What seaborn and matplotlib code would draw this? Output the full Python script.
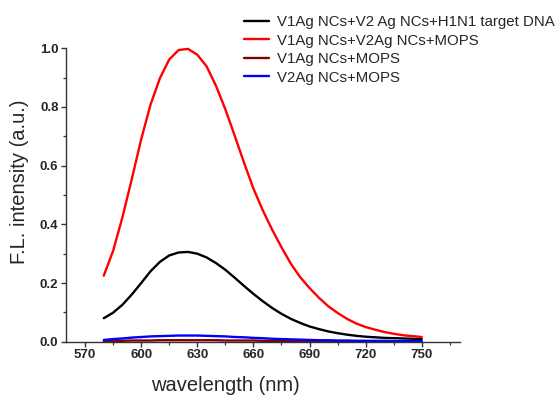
import pandas as pd
import matplotlib
matplotlib.use('Agg')
import matplotlib.pyplot as plt
import seaborn as sns
from matplotlib.ticker import MultipleLocator, FormatStrFormatter

# Emission spectra (5 nm steps)
wavelength = [580, 585, 590, 595, 600, 605, 610, 615, 620, 625,
              630, 635, 640, 645, 650, 655, 660, 665, 670, 675,
              680, 685, 690, 695, 700, 705, 710, 715, 720, 725,
              730, 735, 740, 745, 750]

target_dna = [0.080, 0.099, 0.126, 0.161, 0.200, 0.240, 0.272, 0.294, 0.304, 0.306,
              0.300, 0.287, 0.268, 0.245, 0.218, 0.190, 0.163, 0.138, 0.115, 0.095,
              0.078, 0.064, 0.052, 0.043, 0.035, 0.029, 0.024, 0.020, 0.017, 0.015,
              0.013, 0.012, 0.011, 0.010, 0.009]

v1_v2_mops = [0.225, 0.310, 0.425, 0.555, 0.690, 0.808, 0.898, 0.962, 0.994, 0.998,
              0.978, 0.938, 0.872, 0.792, 0.702, 0.610, 0.522, 0.448, 0.382, 0.322,
              0.266, 0.220, 0.183, 0.150, 0.121, 0.098, 0.078, 0.062, 0.050, 0.041,
              0.033, 0.027, 0.022, 0.019, 0.016]

v1_mops = [0.002, 0.003, 0.003, 0.004, 0.004, 0.004, 0.005, 0.005, 0.005, 0.005,
           0.005, 0.005, 0.005, 0.004, 0.004, 0.004, 0.004, 0.003, 0.003, 0.003,
           0.003, 0.003, 0.002, 0.002, 0.002, 0.002, 0.002, 0.002, 0.002, 0.001,
           0.001, 0.001, 0.001, 0.001, 0.001]

v2_mops = [0.006, 0.009, 0.011, 0.014, 0.016, 0.018, 0.019, 0.020, 0.021, 0.021,
           0.021, 0.020, 0.019, 0.018, 0.016, 0.015, 0.013, 0.012, 0.010, 0.009,
           0.008, 0.007, 0.006, 0.005, 0.005, 0.004, 0.004, 0.003, 0.003, 0.003,
           0.003, 0.002, 0.002, 0.002, 0.002]

labels = ['V1Ag NCs+V2 Ag NCs+H1N1 target DNA',
          'V1Ag NCs+V2Ag NCs+MOPS',
          'V1Ag NCs+MOPS',
          'V2Ag NCs+MOPS']
colors = ['#000000', '#ff0000', '#800000', '#0000ff']

frames = []
for lab, vals in zip(labels, [target_dna, v1_v2_mops, v1_mops, v2_mops]):
    frames.append(pd.DataFrame({'wavelength': wavelength, 'intensity': vals, 'sample': lab}))
df = pd.concat(frames, ignore_index=True)

sns.set_style('ticks')
plt.rcParams['font.family'] = ['Liberation Sans', 'DejaVu Sans']

fig = plt.figure(figsize=(5.6, 4.01), dpi=100)
ax = fig.add_axes([0.1179, 0.1479, 0.7036, 0.7317])

sns.lineplot(data=df, x='wavelength', y='intensity', hue='sample',
             hue_order=labels, palette=dict(zip(labels, colors)),
             linewidth=1.7, ax=ax, legend=True)
for line in ax.lines:
    line.set_clip_on(False)
    line.set_solid_joinstyle('round')

ax.set_xlim(559.8, 770.5)
ax.set_ylim(0, 1.0)
ax.xaxis.set_major_locator(MultipleLocator(30))
ax.xaxis.set_minor_locator(MultipleLocator(15))
ax.yaxis.set_major_locator(MultipleLocator(0.2))
ax.yaxis.set_minor_locator(MultipleLocator(0.1))
ax.yaxis.set_major_formatter(FormatStrFormatter('%.1f'))

sns.despine(ax=ax)
for sp in ['left', 'bottom']:
    ax.spines[sp].set_color('#333333')
    ax.spines[sp].set_linewidth(1.0)
ax.tick_params(which='major', direction='out', length=3.5, width=1.0,
               color='#333333', labelsize=9.5, pad=2)
ax.tick_params(which='minor', direction='out', length=2.2, width=0.9, color='#333333')
for t in ax.get_xticklabels() + ax.get_yticklabels():
    t.set_fontweight('bold')

ax.set_xlabel('wavelength (nm)', fontsize=14.5, va='center')
ax.xaxis.set_label_coords(0.4036, -0.151)
ax.set_ylabel('F.L. intensity (a.u.)', fontsize=14.5, va='center')
ax.yaxis.set_label_coords(-0.119, 0.544)

ax.legend(loc='upper left', bbox_to_anchor=(0.4357, 0.9625),
          bbox_transform=fig.transFigure, frameon=False, fontsize=10.8,
          handlelength=1.67, handletextpad=0.5, labelspacing=0.30,
          borderpad=0, borderaxespad=0)

fig.savefig('out.png', dpi=100)
